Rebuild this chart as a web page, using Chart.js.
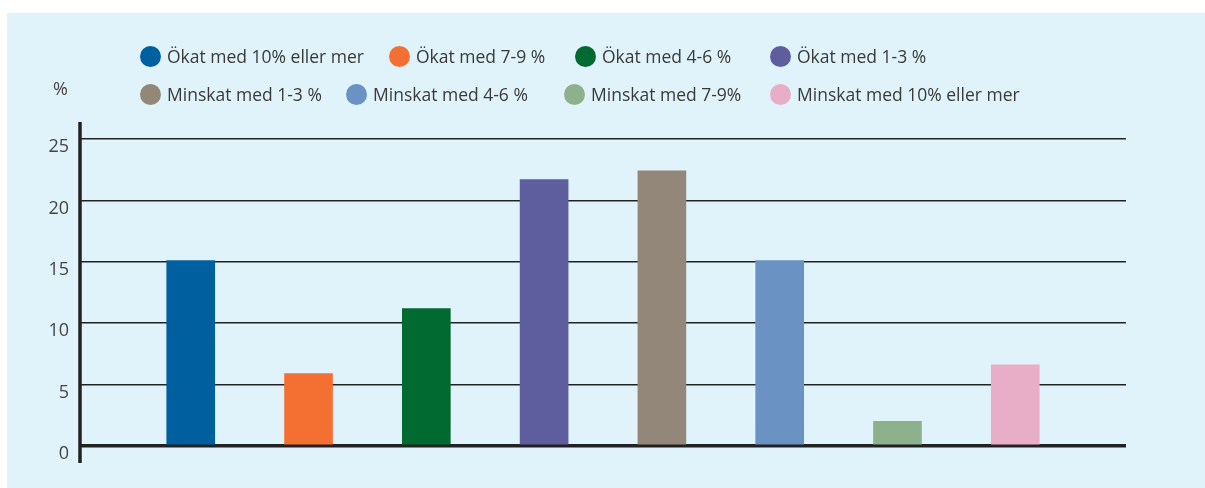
<!DOCTYPE html>
<html>
<head>
<meta charset="utf-8">
<script src="https://cdn.jsdelivr.net/npm/chart.js@4"></script>
<style>
    body { margin: 0; background: #fff; font-family: 'Open Sans', sans-serif; }
    #panel { position: absolute; left: 7px; top: 13px; width: 1198px; height: 475px; background: #e0f3fa; }
    #chartWrap { position: absolute; left: 0; top: 0; width: 1198px; height: 475px; }
    #unit { position: absolute; left: 46px; top: 63px; font-size: 18px; color: #444; }
    .legendItem { position: absolute; display: flex; align-items: center; font-size: 17.5px; color: #3a3a3a; white-space: nowrap; }
    .legendItem i { display: inline-block; width: 21px; height: 21px; border-radius: 50%; margin-right: 6px; }
</style>
</head>
<body>
<div id="panel">
    <div id="chartWrap"><canvas id="barChart"></canvas></div>
    <div id="unit">%</div>
    <div id="legend"></div>
</div>
<script>
const categories = [
    'Ökat med 10% eller mer',
    'Ökat med 7-9 %',
    'Ökat med 4-6 %',
    'Ökat med 1-3 %',
    'Minskat med 1-3 %',
    'Minskat med 4-6 %',
    'Minskat med 7-9%',
    'Minskat med 10% eller mer'
];
const values = [15.1, 5.9, 11.2, 21.7, 22.4, 15.1, 2.0, 6.6];
const colors = ['#00609f', '#f37032', '#006a31', '#5e5e9f', '#938779', '#6a92c3', '#8db18c', '#e8aec8'];
const yTicks = [0, 5, 10, 15, 20, 25];

// legend item left edges inside the panel, two rows of four
const legendLeft = [133, 382, 568, 763, 133, 339, 557, 763];
const legendTop = [31, 69];

function buildLegend() {
    const legend = document.getElementById('legend');
    categories.forEach((name, i) => {
        const item = document.createElement('span');
        item.className = 'legendItem';
        item.style.left = legendLeft[i] + 'px';
        item.style.top = legendTop[i < 4 ? 0 : 1] + 'px';
        item.innerHTML = `<i style="background:${colors[i]}"></i>${name}`;
        legend.appendChild(item);
    });
}

// vertical axis line that sticks out a bit above and below the plot
const axisLinePlugin = {
    id: 'axisLine',
    afterDatasetsDraw(chart) {
        const { ctx, chartArea } = chart;
        ctx.save();
        ctx.strokeStyle = '#222';
        ctx.lineWidth = 3.5;
        ctx.beginPath();
        ctx.moveTo(chartArea.left, chartArea.top - 17);
        ctx.lineTo(chartArea.left, chartArea.bottom + 17);
        ctx.stroke();
        ctx.restore();
    }
};

function initChart() {
    const ctx = document.getElementById('barChart').getContext('2d');

    const datasets = categories.map((name, i) => ({
        label: name,
        data: [{ x: i, y: values[i] }],
        backgroundColor: colors[i],
        barThickness: 48,
        grouped: false
    }));

    return new Chart(ctx, {
        type: 'bar',
        data: { datasets },
        options: {
            responsive: true,
            maintainAspectRatio: false,
            animation: false,
            layout: { padding: { top: 126, right: 79, bottom: 42, left: 0 } },
            plugins: {
                legend: { display: false },
                tooltip: { enabled: false }
            },
            scales: {
                x: {
                    type: 'linear',
                    min: -0.94,
                    max: 7.94,
                    offset: false,
                    display: false
                },
                y: {
                    min: 0,
                    max: 25,
                    afterFit: (scale) => { scale.width = 73; },
                    afterBuildTicks: (scale) => { scale.ticks = yTicks.map(v => ({ value: v })); },
                    border: { display: false },
                    grid: {
                        color: '#222',
                        drawTicks: false,
                        lineWidth: (c) => c.tick && c.tick.value === 0 ? 3.5 : 1.5
                    },
                    ticks: {
                        padding: 11,
                        labelOffset: 8,
                        color: '#444',
                        font: { family: 'Open Sans', size: 18 }
                    }
                }
            }
        },
        plugins: [axisLinePlugin]
    });
}

buildLegend();
initChart();
</script>
</body>
</html>
